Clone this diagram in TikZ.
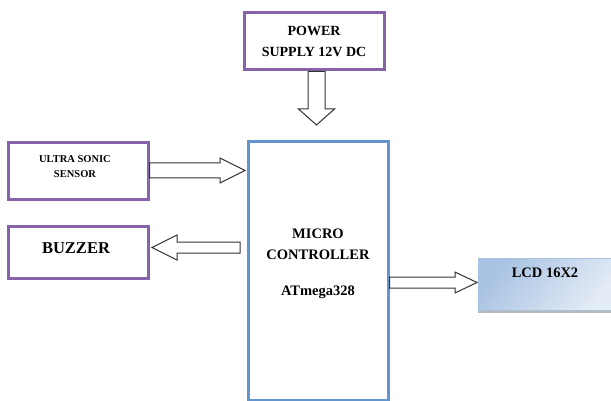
\documentclass[tikz,border=0pt]{standalone}
\usepackage{fontspec}
\setmainfont{Liberation Serif}
\usetikzlibrary{calc,shadows}
\definecolor{boxpurple}{RGB}{135,100,170}
\definecolor{mcblue}{RGB}{100,148,205}
\definecolor{lcdlight}{RGB}{228,236,246}
\definecolor{lcddark}{RGB}{168,194,226}
\tikzset{
  purplebox/.style={draw=boxpurple, line width=3pt, fill=white, inner sep=0pt, align=center, font=\bfseries},
  mcbox/.style={draw=mcblue, line width=3pt, fill=white, inner sep=0pt, align=center, font=\bfseries},
  lcdbox/.style={draw=lcddark, line width=0.6pt, inner sep=0pt, left color=lcddark, right color=lcdlight, shading angle=50,
     drop shadow={shadow xshift=0pt, shadow yshift=-2.5pt, fill=black!35, opacity=0.8}, font=\bfseries},
  arrowline/.style={draw=black!80, line width=1pt, fill=white, line join=miter},
  lbl/.style={font=\bfseries\fontsize{14.5}{21}\selectfont, align=center, inner sep=0pt}
}
% block arrow: start, end, shaft half width, head half width, head length (pt)
\newcommand\blockarr[5]{%
  \path[arrowline] let \p1=(#1), \p2=(#2), \n1={atan2(\y2-\y1,\x2-\x1)}, \n2={veclen(\x2-\x1,\y2-\y1)}, \n3={\n2-#5} in
   [shift={(\p1)}, rotate=\n1]
   (0pt,-#3pt) -- (\n3,-#3pt) -- (\n3,-#4pt) -- (\n2,0pt) -- (\n3,#4pt) -- (\n3,#3pt) -- (0pt,#3pt) -- cycle;}
\begin{document}
\begin{tikzpicture}[x=1pt,y=-1pt]
\useasboundingbox (0,0) rectangle (611,401);
% nodes
\node[purplebox, minimum width=140pt, minimum height=57pt, font=\bfseries\fontsize{14}{21}\selectfont] (ps) at (314,41.5) {POWER\\SUPPLY 12V DC};
\node[purplebox, minimum width=140pt, minimum height=57pt, anchor=center] (us) at (78,171.5) {};
\node[font=\bfseries\fontsize{10.5}{15}\selectfont, align=center, inner sep=0pt] (ustext) at (75,167) {ULTRA SONIC\\SENSOR};
\node[purplebox, minimum width=140pt, minimum height=51pt] (bz) at (78,252.5) {};
\node[font=\bfseries\fontsize{16.5}{20}\selectfont, inner sep=0pt] (bztext) at (76,248) {BUZZER};
\node[mcbox, minimum width=140pt, minimum height=258pt] (mc) at (318,271) {};
\node[lbl] (mctext) at (318,244) {MICRO\\CONTROLLER};
\node[lbl] (mcchip) at (318,292) {ATmega328};
\node[lcdbox, minimum width=138pt, minimum height=52pt] (lcd) at (547,284.5) {};
\node[lbl] (lcdtext) at (545,273) {LCD 16X2};
% arrow free ends
\coordinate (pstip) at (316.5,125);
\coordinate (ustip) at (245,170.5);
\coordinate (bztip) at (152,247.5);
\coordinate (bzstart) at (240,247.5);
\coordinate (lcdtip) at (477,282.5);
% arrows
\blockarr{ps.south -| pstip}{pstip}{8.5}{18}{16}
\blockarr{us.east |- ustip}{ustip}{7.5}{12.5}{25}
\blockarr{bzstart}{bztip}{5.5}{12.5}{25}
\blockarr{mc.east |- lcdtip}{lcdtip}{5.5}{10.5}{22}
\end{tikzpicture}
\end{document}
